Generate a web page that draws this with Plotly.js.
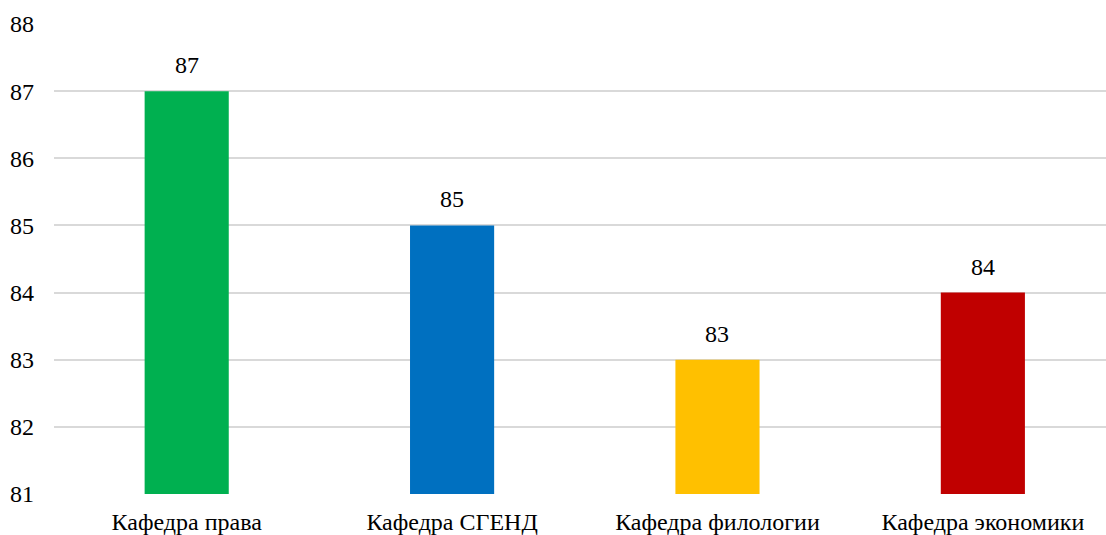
<!DOCTYPE html>
<html><head><meta charset="utf-8">
<script src="https://cdn.plot.ly/plotly-3.0.1.min.js"></script>
<style>html,body{margin:0;padding:0;background:#fff}</style>
</head><body><div id="c" style="width:1106px;height:535px"></div>
<script>
const categories = ["Кафедра права", "Кафедра СГЕНД", "Кафедра филологии", "Кафедра экономики"];
const values = [87, 85, 83, 84];
const colors = ["#00B050", "#0070C0", "#FFC000", "#C00000"];
const yTicks = [81, 82, 83, 84, 85, 86, 87, 88];
const yMin = 81;

const FAM = "Liberation Serif";
const FS = 24;

const trace = {
  type: "bar",
  x: categories,
  y: values.map(v => v - yMin),
  base: yMin,
  marker: {color: colors},
  width: 0.317,
  hoverinfo: "none"
};

const annotations = categories.map((c, i) => ({
  x: c, y: values[i], xref: "x", yref: "y",
  text: String(values[i]), showarrow: false,
  yanchor: "bottom", yshift: 11, font: {family: FAM, size: FS, color: "#000"}
}));

const layout = {
  width: 1106, height: 535,
  margin: {l: 54, r: 0, t: 24, b: 41, pad: 0},
  font: {family: FAM, size: FS, color: "#000"},
  showlegend: false,
  xaxis: {
    type: "category", range: [-0.5, 3.464], showgrid: false, showline: false,
    zeroline: false, ticks: "", ticklabelstandoff: 11
  },
  yaxis: {
    range: [81, 88], tickvals: yTicks,
    showgrid: true, gridcolor: "#D9D9D9", gridwidth: 1.8, zeroline: false, showline: false,
    ticks: "", ticklabelstandoff: 19
  },
  annotations: annotations
};
Plotly.newPlot("c", [trace], layout, {displayModeBar: false});
</script>
</body></html>
